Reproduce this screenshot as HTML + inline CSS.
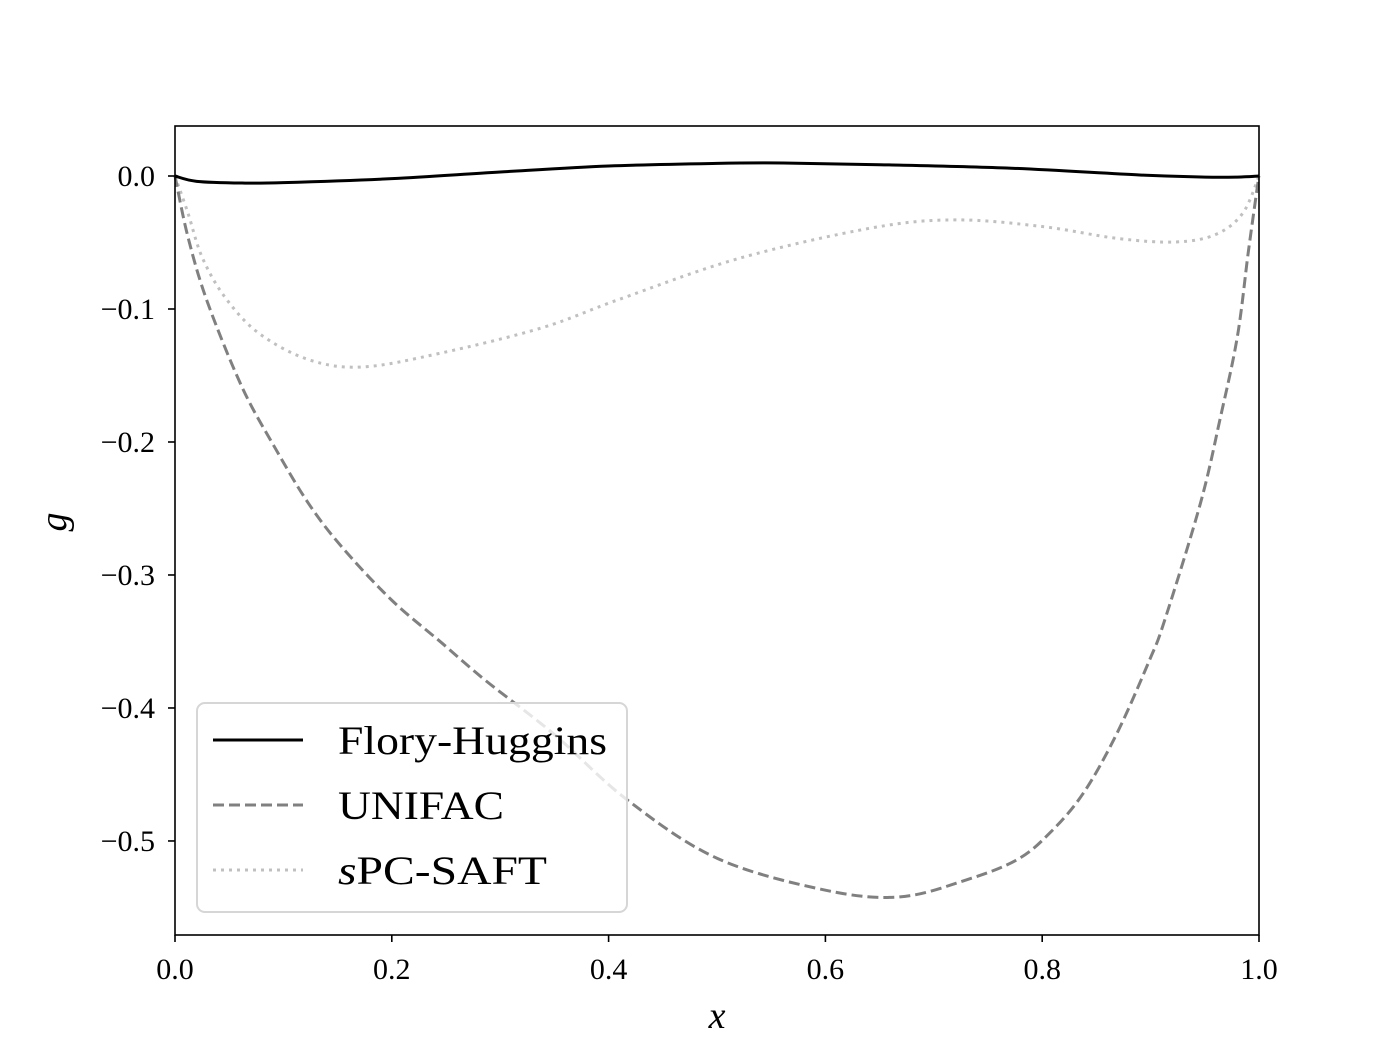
<!DOCTYPE html>
<html><head><meta charset="utf-8"><style>
body{margin:0;background:#fff}
svg{display:block}
text{font-family:"Liberation Serif","DejaVu Serif",serif;fill:#000}
</style></head><body>
<svg id="chart" width="1400" height="1050" xmlns="http://www.w3.org/2000/svg">
<rect width="1400" height="1050" fill="#fff"/>
<g id="curves"></g>
<g id="axes"></g>
<text x="717" y="1028" font-size="38" font-style="italic" text-anchor="middle">x</text>
<text x="0" y="0" font-size="38" font-style="italic" text-anchor="middle" transform="translate(66,522) rotate(-90)">g</text>
<g>
<rect x="197" y="703" width="430" height="209" rx="8" fill="#fff" fill-opacity="0.8" stroke="#d6d6d6" stroke-width="2"/>
<line x1="213" y1="740" x2="303" y2="740" stroke="#000" stroke-width="3"/>
<text x="338" y="754" font-size="40" textLength="269" lengthAdjust="spacingAndGlyphs">Flory-Huggins</text>
<line x1="213" y1="805" x2="303" y2="805" stroke="#808080" stroke-width="3" stroke-dasharray="11,5"/>
<text x="338" y="819" font-size="40" textLength="166" lengthAdjust="spacingAndGlyphs">UNIFAC</text>
<line x1="213" y1="870" x2="303" y2="870" stroke="#c0c0c0" stroke-width="3" stroke-dasharray="3,5"/>
<text x="338" y="884" font-size="40" textLength="209" lengthAdjust="spacingAndGlyphs"><tspan font-style="italic">s</tspan>PC-SAFT</text>
</g>
</svg>
<script>
const xTicks=[0,0.2,0.4,0.6,0.8,1.0];
const xTickLabels=["0.0","0.2","0.4","0.6","0.8","1.0"];
const yTicks=[0,-0.1,-0.2,-0.3,-0.4,-0.5];
const yTickLabels=["0.0","\u22120.1","\u22120.2","\u22120.3","\u22120.4","\u22120.5"];
const fhX=[0,0.02,0.062,0.1,0.2,0.3,0.4,0.5,0.561,0.65,0.767,0.89,0.95,0.98,1.0];
const fhY=[0,-0.004,-0.0053,-0.005,-0.002,0.003,0.0075,0.0095,0.0098,0.0085,0.006,0.0008,-0.0008,-0.0008,0];
const unX=[0,0.012,0.03,0.062,0.092,0.123,0.154,0.2,0.246,0.286,0.35,0.417,0.5,0.6,0.669,0.731,0.777,0.807,0.838,0.869,0.899,0.913,0.946,0.964,0.980,0.990,0.998,1.0];
const unY=[0,-0.046,-0.095,-0.159,-0.204,-0.246,-0.279,-0.319,-0.351,-0.379,-0.42,-0.469,-0.513,-0.537,-0.542,-0.529,-0.514,-0.494,-0.464,-0.419,-0.364,-0.334,-0.246,-0.183,-0.121,-0.058,-0.011,0];
const spX=[0,0.012,0.025,0.046,0.077,0.123,0.173,0.246,0.339,0.409,0.52,0.643,0.72,0.8,0.87,0.923,0.96,0.985,1.0];
const spY=[0,-0.028,-0.061,-0.091,-0.118,-0.138,-0.1436,-0.133,-0.114,-0.093,-0.062,-0.039,-0.033,-0.038,-0.047,-0.0496,-0.044,-0.028,0];
const L=175,R=1259,T=126,B=935,ymin=-0.5707,ymax=0.0376;
const sx=v=>L+(v-0)/(1-0)*(R-L);
const sy=v=>T+(ymax-v)/(ymax-ymin)*(B-T);
const NS="http://www.w3.org/2000/svg";
function path(xs,ys){
  const p=xs.map((x,i)=>[sx(x),sy(ys[i])]);
  let d="M"+p[0][0]+","+p[0][1];
  for(let i=0;i<p.length-1;i++){
    const p0=p[i-1]||p[i],p1=p[i],p2=p[i+1],p3=p[i+2]||p2;
    const c1=[p1[0]+(p2[0]-p0[0])/6,p1[1]+(p2[1]-p0[1])/6];
    const c2=[p2[0]-(p3[0]-p1[0])/6,p2[1]-(p3[1]-p1[1])/6];
    d+=" C"+c1+" "+c2+" "+p2;
  }
  return d;
}
const cg=document.getElementById('curves');
function addLine(xs,ys,color,dash,name){
  const e=document.createElementNS(NS,'path');
  e.setAttribute('d',path(xs,ys));
  e.setAttribute('fill','none');e.setAttribute('stroke',color);e.setAttribute('stroke-width','3');
  if(dash)e.setAttribute('stroke-dasharray',dash);
  
  
  cg.appendChild(e);
}
addLine(spX,spY,'#c0c0c0','3,5','line-spc-saft');
addLine(unX,unY,'#808080','11,5','line-unifac');
addLine(fhX,fhY,'#000','','line-flory-huggins');
const ag=document.getElementById('axes');
const frame=document.createElementNS(NS,'rect');
frame.setAttribute('x',L);frame.setAttribute('y',T);frame.setAttribute('width',R-L);frame.setAttribute('height',B-T);
frame.setAttribute('fill','none');frame.setAttribute('stroke','#000');frame.setAttribute('stroke-width','1.6');


ag.appendChild(frame);
xTicks.forEach((v,i)=>{
  const l=document.createElementNS(NS,'line');
  l.setAttribute('x1',sx(v));l.setAttribute('x2',sx(v));l.setAttribute('y1',B);l.setAttribute('y2',B+7);
  l.setAttribute('stroke','#000');l.setAttribute('stroke-width','1.6');
  
  
  ag.appendChild(l);
  const t=document.createElementNS(NS,'text');
  t.setAttribute('x',sx(v));t.setAttribute('y',B+44);t.setAttribute('font-size','30');t.setAttribute('text-anchor','middle');
  t.textContent=xTickLabels[i];
  
  
  ag.appendChild(t);
});
yTicks.forEach((v,i)=>{
  const l=document.createElementNS(NS,'line');
  l.setAttribute('x1',L-7);l.setAttribute('x2',L);l.setAttribute('y1',sy(v));l.setAttribute('y2',sy(v));
  l.setAttribute('stroke','#000');l.setAttribute('stroke-width','1.6');
  
  
  ag.appendChild(l);
  const t=document.createElementNS(NS,'text');
  t.setAttribute('x',L-20);t.setAttribute('y',sy(v)+10);t.setAttribute('font-size','30');t.setAttribute('text-anchor','end');
  t.textContent=yTickLabels[i];
  
  
  ag.appendChild(t);
});
</script>
</body></html>
